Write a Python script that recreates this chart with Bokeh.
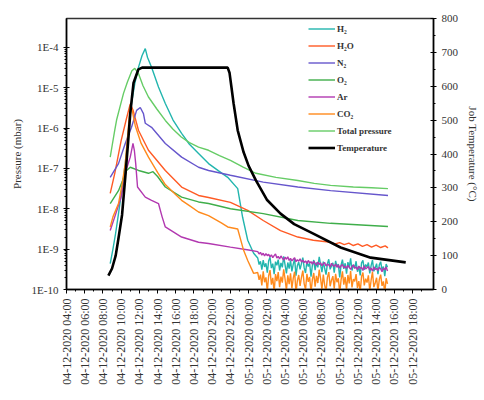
import math
from bokeh.plotting import figure
from bokeh.models import Range1d, LinearAxis, LinearScale, FixedTicker, Legend, LegendItem
from bokeh.embed import file_html
from bokeh.resources import INLINE

# ---- x ticks (hours after 04-12-2020 04:00) ----
TICK_HOURS = [0, 2, 4, 6, 8, 10, 12, 14, 16, 18, 20, 22, 24, 26, 28, 30, 32, 34, 36, 38]
TICK_LABELS = ["04-12-2020 04:00", "04-12-2020 06:00", "04-12-2020 08:00", "04-12-2020 10:00",
               "04-12-2020 12:00", "04-12-2020 14:00", "04-12-2020 16:00", "04-12-2020 18:00",
               "04-12-2020 20:00", "04-12-2020 22:00", "05-12-2020 00:00", "05-12-2020 02:00",
               "05-12-2020 04:00", "05-12-2020 06:00", "05-12-2020 08:00", "05-12-2020 10:00",
               "05-12-2020 12:00", "05-12-2020 14:00", "05-12-2020 16:00", "05-12-2020 18:00"]
MINOR_HOURS = [1, 3, 5, 7, 9, 11, 13, 15, 17, 19, 21, 23, 25, 27, 29, 31, 33, 35, 37, 39]

P_TICKS = [1e-10, 1e-9, 1e-8, 1e-7, 1e-6, 1e-5, 1e-4]
P_LABELS = ["1E-10", "1E-9", "1E-8", "1E-7", "1E-6", "1E-5", "1E-4"]
T_TICKS = [0, 100, 200, 300, 400, 500, 600, 700, 800]
T_MINOR = [50, 150, 250, 350, 450, 550, 650, 750]

# ---- temperature (hours, deg C) ----
TEMP_T = [4.6, 5.0, 5.4, 5.7, 6.1, 6.45, 6.75, 7.0, 7.36, 7.9, 8.3, 12.0, 17.7,
          17.9, 18.1, 18.35, 18.8, 19.45, 20.0, 20.8, 22.0, 23.5, 25.0, 27.1, 30.1, 33.4, 37.25]
TEMP_V = [41, 62, 100, 150, 220, 330, 430, 520, 610, 650, 655, 655, 655,
          640, 600, 549, 470, 405, 365, 322, 265, 224, 193, 165, 124, 94, 80]

# ---- pressures, stored as log10(mbar) ----
TOT_T = [4.8, 5.0, 5.3, 5.5, 5.9, 6.26, 6.7, 7.18, 7.5, 7.9, 8.4, 9.0, 9.9, 10.85, 11.7, 12.6,
         13.5, 14.5, 15.6, 16.8, 18.0, 19.4, 20.8, 23.0, 25.4, 27.2, 29.0, 31.5, 33.5, 35.3]
TOT_L = [-6.72, -6.45, -6.05, -5.80, -5.45, -5.14, -4.85, -4.58, -4.52, -4.65, -4.95, -5.23,
         -5.52, -5.81, -6.03, -6.22, -6.36, -6.47, -6.55, -6.68, -6.80, -6.97, -7.12, -7.22,
         -7.30, -7.37, -7.42, -7.46, -7.48, -7.50]

H2_T = [4.8, 5.1, 5.4, 5.71, 6.1, 6.45, 6.8, 7.14, 7.5, 7.91, 8.3, 8.65, 8.9, 9.34, 10.1,
        10.85, 11.7, 12.64, 13.5, 14.5, 15.6, 16.7, 17.7, 18.8, 19.34, 19.9, 20.55]
H2_L = [-9.36, -9.0, -8.6, -8.12, -7.5, -6.88, -6.1, -5.39, -4.9, -4.49, -4.2, -4.03, -4.25,
        -4.49, -4.98, -5.39, -5.80, -6.13, -6.40, -6.63, -6.88, -7.06, -7.22, -7.5, -8.21,
        -8.78, -9.10]

H2O_T = [4.8, 5.3, 6.0, 6.6, 7.0, 7.3, 7.91, 9.0, 10.85, 12.64, 14.5, 15.6, 18.0, 19.9, 21.6,
         23.5, 25.4, 27.1, 29.0, 29.5, 30.0, 30.5, 31.0, 31.5, 32.0, 32.5, 33.0, 33.5, 34.0,
         34.5, 35.0, 35.3]
H2O_L = [-7.62, -7.12, -6.31, -5.75, -5.40, -5.55, -6.06, -6.55, -7.05, -7.46, -7.67, -7.72,
         -7.84, -8.04, -8.29, -8.54, -8.70, -8.78, -8.83, -8.87, -8.84, -8.89, -8.85, -8.91,
         -8.87, -8.93, -8.89, -8.95, -8.90, -8.96, -8.92, -8.97]

N2_T = [4.8, 5.71, 6.45, 7.14, 7.7, 8.1, 8.45, 8.65, 9.34, 10.85, 12.64, 14.5, 15.6, 18.0,
        21.6, 25.4, 29.0, 35.3]
N2_L = [-7.22, -6.88, -6.38, -5.98, -5.56, -5.49, -5.64, -5.88, -5.98, -6.38, -6.72, -6.97,
        -7.05, -7.17, -7.34, -7.46, -7.55, -7.67]

O2_T = [4.8, 5.71, 6.6, 7.0, 7.91, 9.0, 9.5, 10.0, 10.85, 12.64, 14.5, 15.6, 18.0, 21.6,
        25.4, 29.0, 35.3]
O2_L = [-7.87, -7.55, -7.05, -6.97, -7.05, -7.12, -7.08, -7.20, -7.46, -7.71, -7.83, -7.87,
        -8.00, -8.12, -8.29, -8.36, -8.44]

AR_T = [4.8, 5.3, 6.0, 6.6, 7.0, 7.3, 7.45, 7.6, 7.8, 8.65, 9.34, 10.1, 10.5, 10.85, 12.64,
        14.5, 15.6, 18.0, 20.0]
AR_L = [-8.54, -8.2, -7.71, -7.0, -6.72, -6.38, -6.55, -6.88, -7.46, -7.71, -7.79, -7.87,
        -8.20, -8.45, -8.70, -8.83, -8.86, -8.95, -9.02]

CO2_T = [4.8, 5.1, 5.71, 6.1, 6.45, 6.75, 7.0, 7.2, 7.55, 8.2, 9.0, 10.0, 10.85, 12.0, 12.64,
         13.5, 14.5, 15.6, 17.0, 17.7, 18.8, 19.45, 19.9, 20.55]
CO2_L = [-8.45, -8.2, -7.87, -7.4, -6.88, -6.1, -5.48, -5.55, -5.94, -6.38, -6.72, -7.1,
         -7.40, -7.65, -7.79, -7.92, -8.08, -8.17, -8.35, -8.45, -8.50, -9.03, -9.28, -9.6]

# late, noisy part (shared sample times, hours)
LATE_T = [21.00, 21.15, 21.30, 21.45, 21.60, 21.75, 21.90, 22.05,
          22.20, 22.35, 22.50, 22.65, 22.80, 22.95, 23.10, 23.25,
          23.40, 23.55, 23.70, 23.85, 24.00, 24.15, 24.30, 24.45,
          24.60, 24.75, 24.90, 25.05, 25.20, 25.35, 25.50, 25.65,
          25.80, 25.95, 26.10, 26.25, 26.40, 26.55, 26.70, 26.85,
          27.00, 27.15, 27.30, 27.45, 27.60, 27.75, 27.90, 28.05,
          28.20, 28.35, 28.50, 28.65, 28.80, 28.95, 29.10, 29.25,
          29.40, 29.55, 29.70, 29.85, 30.00, 30.15, 30.30, 30.45,
          30.60, 30.75, 30.90, 31.05, 31.20, 31.35, 31.50, 31.65,
          31.80, 31.95, 32.10, 32.25, 32.40, 32.55, 32.70, 32.85,
          33.00, 33.15, 33.30, 33.45, 33.60, 33.75, 33.90, 34.05,
          34.20, 34.35, 34.50, 34.65, 34.80, 34.95, 35.10, 35.25]
H2_LATE = [-9.22, -9.38, -9.30, -9.51, -9.27, -9.44, -9.35, -9.58,
           -9.29, -9.20, -9.47, -9.36, -9.62, -9.31, -9.40, -9.26,
           -9.53, -9.34, -9.45, -9.18, -9.39, -9.60, -9.33, -9.48,
           -9.28, -9.55, -9.37, -9.24, -9.66, -9.41, -9.32, -9.50,
           -9.36, -9.21, -9.46, -9.59, -9.30, -9.43, -9.35, -9.68,
           -9.40, -9.27, -9.52, -9.33, -9.45, -9.19, -9.38, -9.57,
           -9.31, -9.48, -9.63, -9.36, -9.25, -9.50, -9.42, -9.34,
           -9.58, -9.29, -9.44, -9.37, -9.70, -9.40, -9.26, -9.49,
           -9.35, -9.61, -9.32, -9.45, -9.23, -9.53, -9.39, -9.47,
           -9.30, -9.56, -9.42, -9.65, -9.34, -9.28, -9.51, -9.38,
           -9.44, -9.33, -9.60, -9.41, -9.27, -9.55, -9.46, -9.36,
           -9.62, -9.39, -9.31, -9.52, -9.43, -9.67, -9.37, -9.45]
CO2_LATE = [-9.58, -9.76, -9.63, -9.90, -9.55, -9.82, -9.70, -10.04,
            -9.66, -9.52, -9.88, -9.71, -10.06, -9.62, -9.79, -9.57,
            -9.94, -9.68, -9.83, -9.50, -9.74, -10.02, -9.65, -9.87,
            -9.60, -9.97, -9.72, -9.56, -10.08, -9.78, -9.64, -9.91,
            -9.70, -9.53, -9.86, -10.00, -9.61, -9.81, -9.69, -10.07,
            -9.75, -9.59, -9.93, -9.66, -9.84, -9.51, -9.73, -9.99,
            -9.63, -9.89, -10.05, -9.70, -9.57, -9.92, -9.77, -9.67,
            -9.98, -9.61, -9.82, -9.72, -10.09, -9.76, -9.55, -9.88,
            -9.69, -10.01, -9.64, -9.85, -9.54, -9.95, -9.74, -9.80,
            -9.62, -9.96, -9.79, -10.06, -9.68, -9.58, -9.90, -9.73,
            -9.83, -9.65, -10.03, -9.77, -9.56, -9.94, -9.84, -9.71,
            -10.04, -9.75, -9.63, -9.91, -9.80, -10.08, -9.72, -9.86]
AR_LATE = [-9.06, -9.12, -9.08, -9.15, -9.10, -9.17, -9.11, -9.16,
           -9.13, -9.19, -9.14, -9.21, -9.16, -9.12, -9.22, -9.18,
           -9.24, -9.17, -9.22, -9.27, -9.20, -9.25, -9.19, -9.28,
           -9.23, -9.29, -9.25, -9.21, -9.31, -9.26, -9.30, -9.24,
           -9.32, -9.27, -9.33, -9.29, -9.36, -9.28, -9.34, -9.31,
           -9.37, -9.30, -9.35, -9.40, -9.32, -9.38, -9.34, -9.41,
           -9.36, -9.33, -9.42, -9.37, -9.39, -9.44, -9.35, -9.40,
           -9.43, -9.37, -9.45, -9.39, -9.47, -9.41, -9.38, -9.46,
           -9.42, -9.48, -9.40, -9.45, -9.50, -9.43, -9.39, -9.47,
           -9.44, -9.51, -9.42, -9.48, -9.45, -9.53, -9.41, -9.49,
           -9.46, -9.43, -9.52, -9.47, -9.55, -9.44, -9.50, -9.48,
           -9.53, -9.45, -9.49, -9.56, -9.47, -9.51, -9.44, -9.54]


def mbar(logs):
    return [10.0 ** v for v in logs]


SERIF = "Liberation Serif"
TXT = "#333333"

p = figure(frame_width=367, frame_height=271, y_axis_type="log",
           x_range=Range1d(0, 40.3), y_range=Range1d(1e-10, 5.2e-4),
           output_backend="svg", toolbar_location=None,
           min_border_left=66, min_border_right=44, min_border_top=18, min_border_bottom=10)
p.grid.visible = False
p.outline_line_color = "#333333"
p.outline_line_width = 1.5
p.background_fill_color = "white"
p.border_fill_color = "white"

p.extra_y_ranges = {"temp": Range1d(0, 800)}
p.extra_y_scales = {"temp": LinearScale()}

# x axis
xa = p.xaxis[0]
xa.ticker = FixedTicker(ticks=TICK_HOURS, minor_ticks=MINOR_HOURS)
xa.major_label_overrides = {h: lab for h, lab in zip(TICK_HOURS, TICK_LABELS)}
xa.major_label_orientation = math.pi / 2
xa.major_label_text_font = SERIF
xa.major_label_text_font_size = "12px"
xa.major_label_text_color = TXT
xa.major_tick_in = 0
xa.major_tick_out = 4
xa.minor_tick_in = 0
xa.minor_tick_out = 2
xa.axis_line_width = 1.5

# left axis
ya = p.yaxis[0]
minor_p = []
for d in P_TICKS[:-1]:
    for k in range(2, 10):
        minor_p.append(d * k)
ya.ticker = FixedTicker(ticks=P_TICKS, minor_ticks=minor_p)
ya.major_label_overrides = {t: lab for t, lab in zip(P_TICKS, P_LABELS)}
ya.major_label_text_font = SERIF
ya.major_label_text_font_size = "11px"
ya.major_label_text_color = TXT
ya.axis_label = "Pressure (mbar)"
ya.axis_label_text_font = SERIF
ya.axis_label_text_font_size = "11px"
ya.axis_label_text_font_style = "normal"
ya.axis_label_text_color = TXT
ya.axis_label_standoff = 6
ya.major_tick_in = 3
ya.major_tick_out = 3
ya.minor_tick_in = 0
ya.minor_tick_out = 2
ya.axis_line_width = 1.5

# right axis (temperature)
ra = LinearAxis(y_range_name="temp", axis_label="Job Temperature (°C)",
                ticker=FixedTicker(ticks=T_TICKS, minor_ticks=T_MINOR))
ra.major_label_text_font = SERIF
ra.major_label_text_font_size = "11px"
ra.major_label_text_color = TXT
ra.axis_label_text_font = SERIF
ra.axis_label_text_font_size = "11px"
ra.axis_label_text_font_style = "normal"
ra.axis_label_text_color = TXT
ra.axis_label_standoff = 6
ra.major_tick_in = 3
ra.major_tick_out = 3
ra.minor_tick_in = 0
ra.minor_tick_out = 2
ra.axis_line_width = 1.5
p.add_layout(ra, "right")

LW = 1.4
C_H2, C_H2O, C_N2, C_O2 = "#22b5ae", "#ff5a24", "#6656cc", "#3fae4a"
C_AR, C_CO2, C_TOT = "#b238b0", "#ff8a1c", "#66cc66"
r_h2 = p.line(H2_T + LATE_T, mbar(H2_L + H2_LATE), color=C_H2, line_width=LW)
r_h2o = p.line(H2O_T, mbar(H2O_L), color=C_H2O, line_width=LW)
r_n2 = p.line(N2_T, mbar(N2_L), color=C_N2, line_width=LW)
r_o2 = p.line(O2_T, mbar(O2_L), color=C_O2, line_width=LW)
r_ar = p.line(AR_T + LATE_T, mbar(AR_L + AR_LATE), color=C_AR, line_width=LW)
r_co2 = p.line(CO2_T + LATE_T, mbar(CO2_L + CO2_LATE), color=C_CO2, line_width=LW)
r_tot = p.line(TOT_T, mbar(TOT_L), color=C_TOT, line_width=LW)
r_temp = p.line(TEMP_T, TEMP_V, y_range_name="temp", color="black", line_width=2.6)

items = [LegendItem(label="H₂", renderers=[r_h2]),
         LegendItem(label="H₂O", renderers=[r_h2o]),
         LegendItem(label="N₂", renderers=[r_n2]),
         LegendItem(label="O₂", renderers=[r_o2]),
         LegendItem(label="Ar", renderers=[r_ar]),
         LegendItem(label="CO₂", renderers=[r_co2]),
         LegendItem(label="Total pressure", renderers=[r_tot]),
         LegendItem(label="Temperature", renderers=[r_temp])]
legend = Legend(items=items, location=(240, 132), border_line_alpha=0,
                background_fill_alpha=0, label_text_font=SERIF,
                label_text_font_style="bold", label_text_font_size="9px",
                label_text_color=TXT,
                glyph_width=27, glyph_height=15, label_height=15, spacing=2,
                padding=2, margin=0, label_standoff=2)
p.add_layout(legend)

open("out.html", "w").write(file_html(p, INLINE))
